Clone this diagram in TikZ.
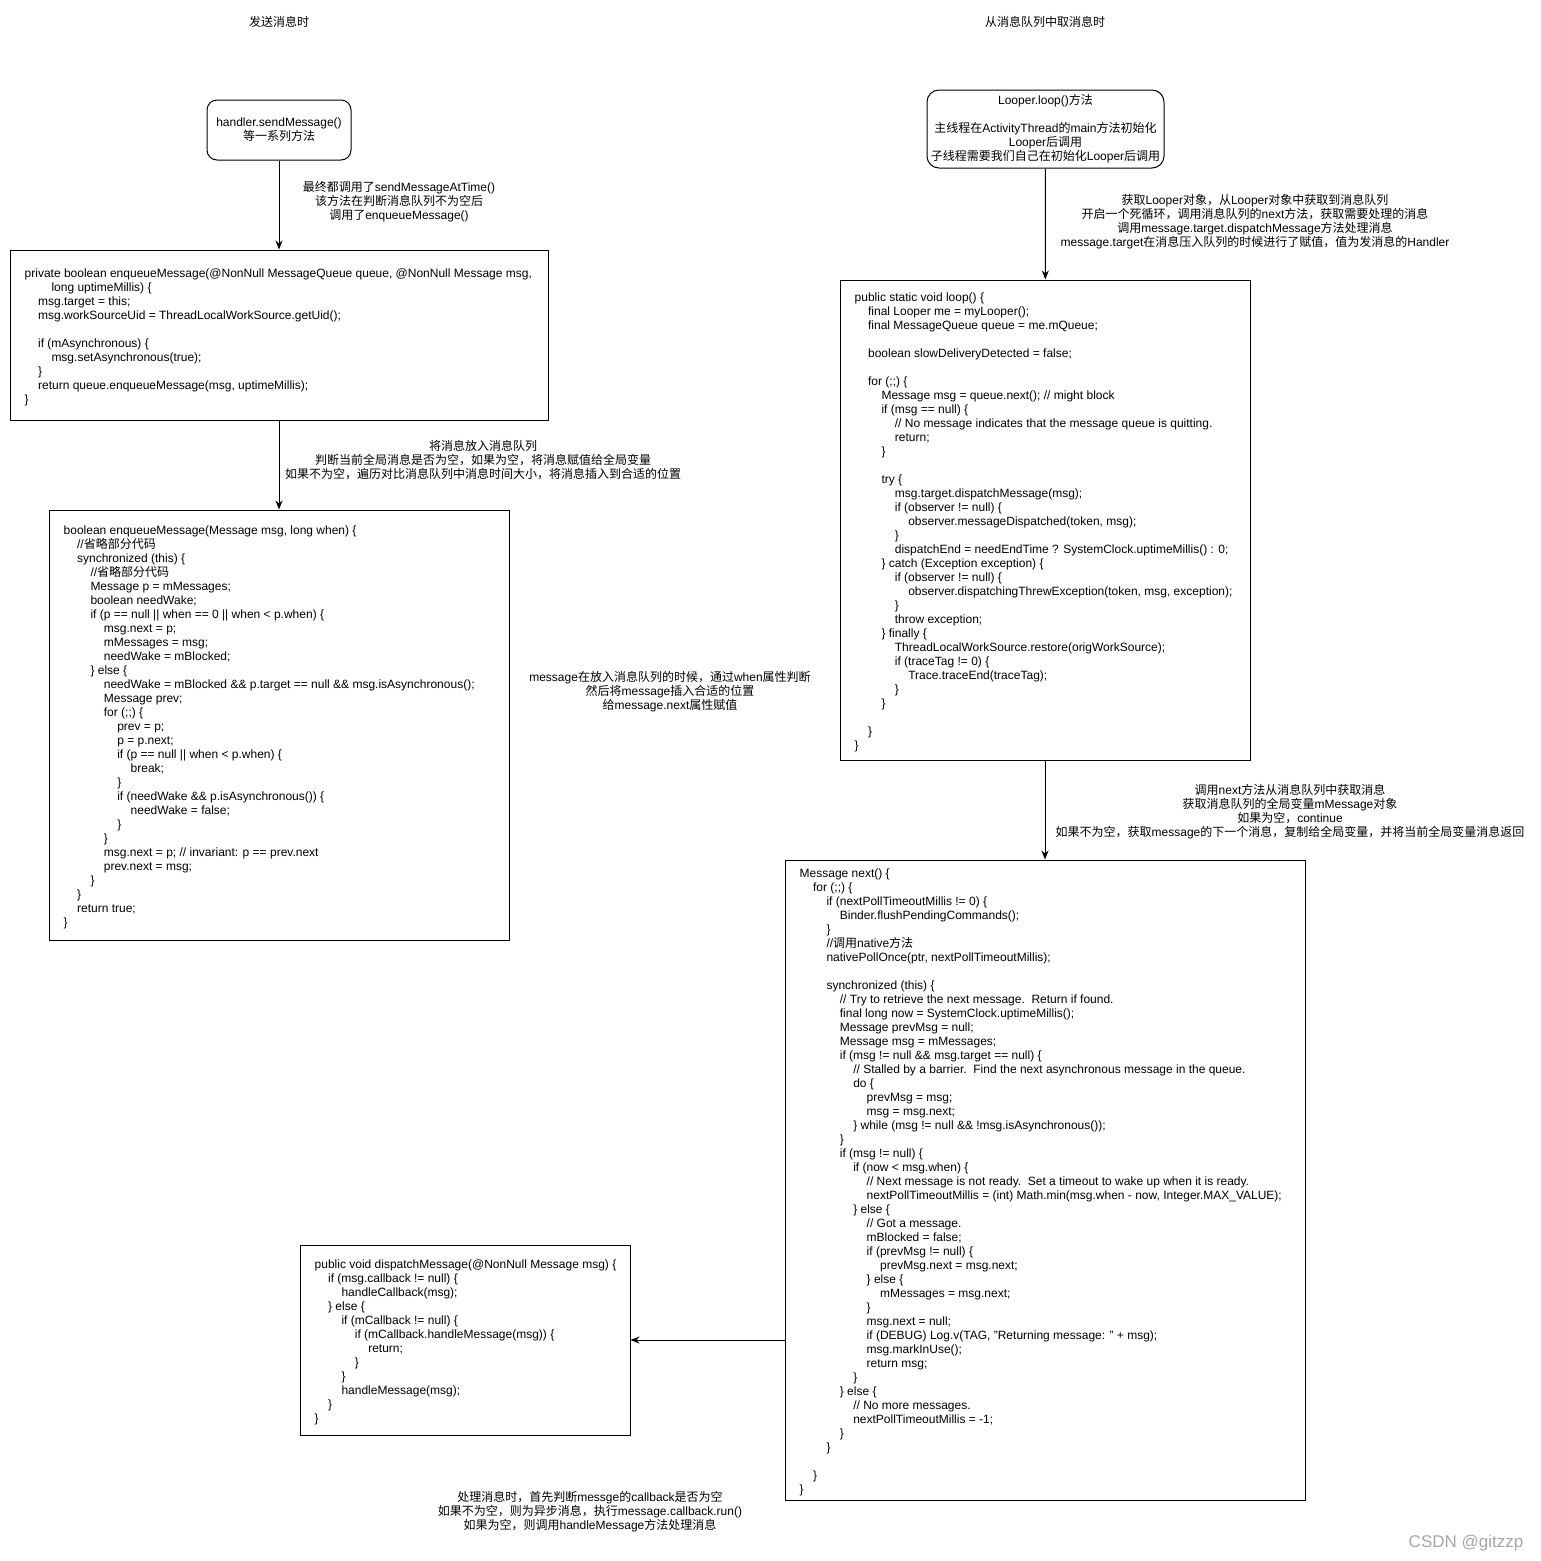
\documentclass[tikz,border=0pt]{standalone}
\usepackage{fontspec}
\setmainfont{Liberation Sans}
\newfontfamily\zhfont{Noto Sans CJK SC}
\usetikzlibrary{arrows.meta}
\tikzset{ box/.style 2 args = { rectangle % code frame
, draw
, line width = 1pt
, minimum width = #1pt
, minimum height = #2pt
}
, rbox/.style 2 args = { rectangle % rounded start box
, draw
, rounded corners = 11pt
, line width = 1pt
, minimum width = #1pt
, minimum height = #2pt
, align = center
, inner sep = 0pt
, font = \fontsize{12pt}{14pt}\selectfont
}
, code/.style = { anchor = west % code lines
, align = left
, inner sep = 0pt
, yshift = -2pt
, font = \fontsize{12pt}{14pt}\selectfont
}
, note/.style = { align = center % edge remarks
, inner sep = 0pt
, yshift = -2pt
, font = \fontsize{12pt}{14pt}\selectfont
}
, arr/.style = { -{Stealth[length=9pt, width=7pt]}
, line width = 1pt
}
}
\newcommand{\zh}[1]{{\zhfont #1}}
\newlength{\indw}
\setlength{\indw}{13.4pt}
\newcommand{\ind}[1]{\hspace*{#1\indw}}

\begin{document}
\begin{tikzpicture}[x=1pt, y=-1pt]
\useasboundingbox (0,0) rectangle (1541,1561);
% titles
\node[note] (sendtitle) at (279,20) {\zh{发送消息时}};
\node[note] (looptitle) at (1045,20) {\zh{从消息队列中取消息时}};

% sending side
\node[rbox={144}{60}, rounded corners=10pt] (send) at (279,130) {handler.sendMessage()\\\zh{等一系列方法}};

\node[box={538}{170}] (enqa) at (279,335) {};
\node[code] (enqatext) at ([xshift=15pt]enqa.west) {private boolean enqueueMessage(@NonNull MessageQueue queue, @NonNull Message msg,\\
\ind{2}long uptimeMillis) \{\\
\ind{1}msg.target = this;\\
\ind{1}msg.workSourceUid = ThreadLocalWorkSource.getUid();\\
\mbox{}\\
\ind{1}if (mAsynchronous) \{\\
\ind{2}msg.setAsynchronous(true);\\
\ind{1}\}\\
\ind{1}return queue.enqueueMessage(msg, uptimeMillis);\\
\}};

\node[box={460}{430}] (enqb) at (279,725) {};
\node[code] (enqbtext) at ([xshift=15pt]enqb.west) {boolean enqueueMessage(Message msg, long when) \{\\
\ind{1}//\zh{省略部分代码}\\
\ind{1}synchronized (this) \{\\
\ind{2}//\zh{省略部分代码}\\
\ind{2}Message p = mMessages;\\
\ind{2}boolean needWake;\\
\ind{2}if (p == null || when == 0 || when < p.when) \{\\
\ind{3}msg.next = p;\\
\ind{3}mMessages = msg;\\
\ind{3}needWake = mBlocked;\\
\ind{2}\} else \{\\
\ind{3}needWake = mBlocked \&\& p.target == null \&\& msg.isAsynchronous();\\
\ind{3}Message prev;\\
\ind{3}for (;;) \{\\
\ind{4}prev = p;\\
\ind{4}p = p.next;\\
\ind{4}if (p == null || when < p.when) \{\\
\ind{5}break;\\
\ind{4}\}\\
\ind{4}if (needWake \&\& p.isAsynchronous()) \{\\
\ind{5}needWake = false;\\
\ind{4}\}\\
\ind{3}\}\\
\ind{3}msg.next = p; // invariant: p == prev.next\\
\ind{3}prev.next = msg;\\
\ind{2}\}\\
\ind{1}\}\\
\ind{1}return true;\\
\}};

\node[note] (enqnote) at (483,458) {\zh{将消息放入消息队列}\\\zh{判断当前全局消息是否为空，如果为空，将消息赋值给全局变量}\\\zh{如果不为空，遍历对比消息队列中消息时间大小，将消息插入到合适的位置}};
\node[note] (sendnote) at (399,200) {\zh{最终都调用了}sendMessageAtTime()\\\zh{该方法在判断消息队列不为空后}\\\zh{调用了}enqueueMessage()};
\node[note] (whennote) at (670,690) {message\zh{在放入消息队列的时候，通过}when\zh{属性判断}\\\zh{然后将}message\zh{插入合适的位置}\\\zh{给}message.next\zh{属性赋值}};

% taking side
\node[rbox={237}{78}, rounded corners=12pt] (looper) at (1045.5,129) {Looper.loop()\zh{方法}\\\mbox{}\\\zh{主线程在}ActivityThread\zh{的}main\zh{方法初始化}\\Looper\zh{后调用}\\\zh{子线程需要我们自己在初始化}Looper\zh{后调用}};

\node[box={410}{480}] (loopbox) at (1045,520) {};
\node[code] (looptext) at ([xshift=15pt]loopbox.west) {public static void loop() \{\\
\ind{1}final Looper me = myLooper();\\
\ind{1}final MessageQueue queue = me.mQueue;\\
\mbox{}\\
\ind{1}boolean slowDeliveryDetected = false;\\
\mbox{}\\
\ind{1}for (;;) \{\\
\ind{2}Message msg = queue.next(); // might block\\
\ind{2}if (msg == null) \{\\
\ind{3}// No message indicates that the message queue is quitting.\\
\ind{3}return;\\
\ind{2}\}\\
\mbox{}\\
\ind{2}try \{\\
\ind{3}msg.target.dispatchMessage(msg);\\
\ind{3}if (observer != null) \{\\
\ind{4}observer.messageDispatched(token, msg);\\
\ind{3}\}\\
\ind{3}dispatchEnd = needEndTime ? SystemClock.uptimeMillis() : 0;\\
\ind{2}\} catch (Exception exception) \{\\
\ind{3}if (observer != null) \{\\
\ind{4}observer.dispatchingThrewException(token, msg, exception);\\
\ind{3}\}\\
\ind{3}throw exception;\\
\ind{2}\} finally \{\\
\ind{3}ThreadLocalWorkSource.restore(origWorkSource);\\
\ind{3}if (traceTag != 0) \{\\
\ind{4}Trace.traceEnd(traceTag);\\
\ind{3}\}\\
\ind{2}\}\\
\mbox{}\\
\ind{1}\}\\
\}};

\node[note] (loopnote) at (1255,220) {\zh{获取}Looper\zh{对象，从}Looper\zh{对象中获取到消息队列}\\\zh{开启一个死循环，调用消息队列的}next\zh{方法，获取需要处理的消息}\\\zh{调用}message.target.dispatchMessage\zh{方法处理消息}\\message.target\zh{在消息压入队列的时候进行了赋值，值为发消息的}Handler};

\node[box={520}{640}] (nextbox) at (1045,1180) {};
\node[code] (nexttext) at ([xshift=15pt]nextbox.west) {Message next() \{\\
\ind{1}for (;;) \{\\
\ind{2}if (nextPollTimeoutMillis != 0) \{\\
\ind{3}Binder.flushPendingCommands();\\
\ind{2}\}\\
\ind{2}//\zh{调用}native\zh{方法}\\
\ind{2}nativePollOnce(ptr, nextPollTimeoutMillis);\\
\mbox{}\\
\ind{2}synchronized (this) \{\\
\ind{3}// Try to retrieve the next message.\ \ Return if found.\\
\ind{3}final long now = SystemClock.uptimeMillis();\\
\ind{3}Message prevMsg = null;\\
\ind{3}Message msg = mMessages;\\
\ind{3}if (msg != null \&\& msg.target == null) \{\\
\ind{4}// Stalled by a barrier.\ \ Find the next asynchronous message in the queue.\\
\ind{4}do \{\\
\ind{5}prevMsg = msg;\\
\ind{5}msg = msg.next;\\
\ind{4}\} while (msg != null \&\& !msg.isAsynchronous());\\
\ind{3}\}\\
\ind{3}if (msg != null) \{\\
\ind{4}if (now < msg.when) \{\\
\ind{5}// Next message is not ready.\ \ Set a timeout to wake up when it is ready.\\
\ind{5}nextPollTimeoutMillis = (int) Math.min(msg.when - now, Integer.MAX\_VALUE);\\
\ind{4}\} else \{\\
\ind{5}// Got a message.\\
\ind{5}mBlocked = false;\\
\ind{5}if (prevMsg != null) \{\\
\ind{6}prevMsg.next = msg.next;\\
\ind{5}\} else \{\\
\ind{6}mMessages = msg.next;\\
\ind{5}\}\\
\ind{5}msg.next = null;\\
\ind{5}if (DEBUG) Log.v(TAG, "Returning message: " + msg);\\
\ind{5}msg.markInUse();\\
\ind{5}return msg;\\
\ind{4}\}\\
\ind{3}\} else \{\\
\ind{4}// No more messages.\\
\ind{4}nextPollTimeoutMillis = -1;\\
\ind{3}\}\\
\ind{2}\}\\
\mbox{}\\
\ind{1}\}\\
\}};

\node[note] (nextnote) at (1290,810) {\zh{调用}next\zh{方法从消息队列中获取消息}\\\zh{获取消息队列的全局变量}mMessage\zh{对象}\\\zh{如果为空，}continue\\\zh{如果不为空，获取}message\zh{的下一个消息，复制给全局变量，并将当前全局变量消息返回}};

\node[box={330}{190}] (dispatch) at (465,1340) {};
\node[code] (dispatchtext) at ([xshift=15pt]dispatch.west) {public void dispatchMessage(@NonNull Message msg) \{\\
\ind{1}if (msg.callback != null) \{\\
\ind{2}handleCallback(msg);\\
\ind{1}\} else \{\\
\ind{2}if (mCallback != null) \{\\
\ind{3}if (mCallback.handleMessage(msg)) \{\\
\ind{4}return;\\
\ind{3}\}\\
\ind{2}\}\\
\ind{2}handleMessage(msg);\\
\ind{1}\}\\
\}};

\node[note] (dispatchnote) at (590,1510) {\zh{处理消息时，首先判断}messge\zh{的}callback\zh{是否为空}\\\zh{如果不为空，则为异步消息，执行}message.callback.run()\\\zh{如果为空，则调用}handleMessage\zh{方法处理消息}};

\node[note, text=black!35, font=\fontsize{17pt}{20pt}\selectfont] (mark) at (1466,1541) {CSDN @gitzzp};

% connectors
\draw[arr] (send) -- (enqa);
\draw[arr] (enqa) -- (enqb);
\draw[arr] (looper) -- (loopbox);
\draw[arr] (loopbox) -- (nextbox);
\draw[arr] (nextbox.west |- dispatch) -- (dispatch);
\end{tikzpicture}
\end{document}
